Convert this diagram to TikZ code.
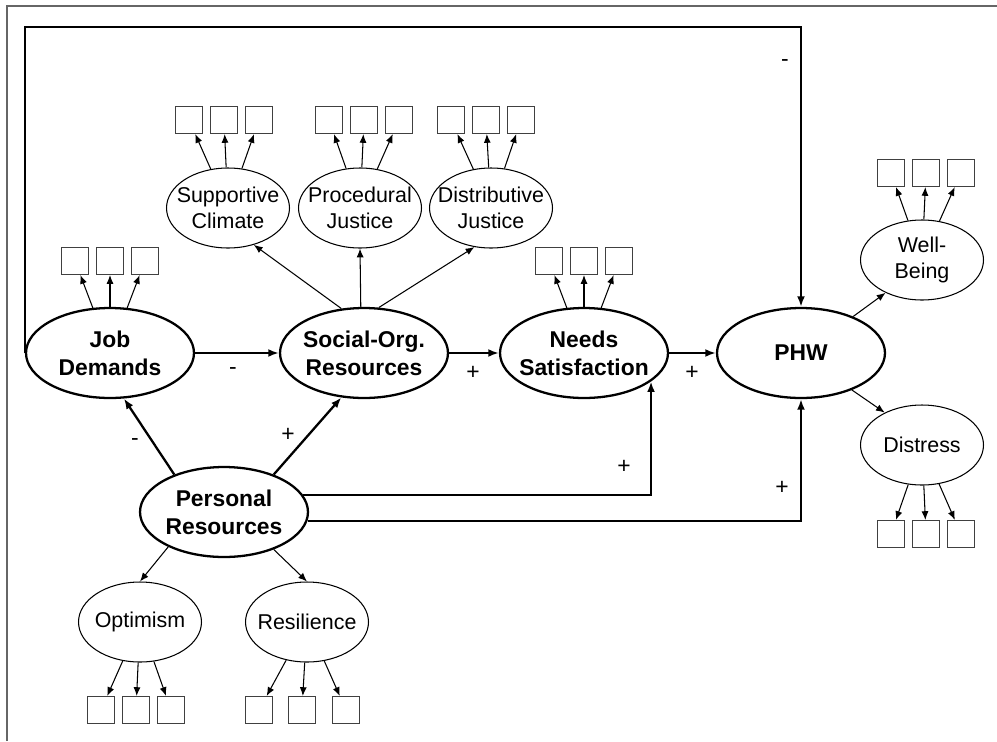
\documentclass[tikz,border=0pt]{standalone}
\usepackage{fontspec}
\setmainfont{Liberation Sans}
\usetikzlibrary{shapes.geometric,arrows.meta}
\tikzset{
  latent/.style={draw,shape=ellipse,line width=1.3pt,inner xsep=-8pt,inner ysep=0pt,
    minimum width=3.36cm,minimum height=1.8cm,align=center,
    font=\fontsize{13}{16}\selectfont\bfseries},
  factor/.style={draw,shape=ellipse,line width=0.6pt,inner xsep=-8pt,inner ysep=0pt,
    minimum width=2.46cm,minimum height=1.6cm,align=center,
    font=\fontsize{12.2}{15}\selectfont},
  item/.style={draw=black!75,line width=0.6pt,inner sep=0pt,minimum size=0.54cm},
  effect/.style={line width=1.3pt,-{Latex[length=6pt,width=4.5pt]}},
  loading/.style={line width=0.6pt,-{Latex[length=5pt,width=4pt]}},
  sign/.style={inner sep=0pt,font=\fontsize{13}{13}\selectfont}
}
\begin{document}
\begin{tikzpicture}[x=0.02cm,y=-0.02cm]
\useasboundingbox (0,0) rectangle (997,741);
\draw[black!60,line width=0.8pt] (7,741) -- (7,6) -- (997,6);
% structural part
\node [latent,name=jd] at (110,353) {Job\\Demands};
\node [latent,name=so] at (364,353) {Social-Org.\\Resources};
\node [latent,name=ns] at (584,353) {Needs\\Satisfaction};
\node [latent,name=phw] at (801,353) {PHW};
\node [latent,name=pr] at (224,512) {Personal\\Resources};
% first-order factors
\node [factor,name=sc] at (228,208) {Supportive\\Climate};
\node [factor,name=pj] at (360,208) {Procedural\\Justice};
\node [factor,name=dj] at (491,208) {Distributive\\Justice};
\node [factor,name=wb] at (922,260) {Well-\\Being};
\node [factor,name=di] at (922,445) {Distress};
\node [factor,name=op] at (140,622) {Optimism};
\node [factor,name=re] at (307,622) {Resilience};
% indicators
\node [item,name=jd1] at (75,261) {};
\node [item,name=jd2] at (110,261) {};
\node [item,name=jd3] at (145,261) {};
\node [item,name=sc1] at (189,120) {};
\node [item,name=sc2] at (224,120) {};
\node [item,name=sc3] at (259,120) {};
\node [item,name=pj1] at (329,120) {};
\node [item,name=pj2] at (364,120) {};
\node [item,name=pj3] at (399,120) {};
\node [item,name=dj1] at (451,120) {};
\node [item,name=dj2] at (486,120) {};
\node [item,name=dj3] at (521,120) {};
\node [item,name=ns1] at (549,261) {};
\node [item,name=ns2] at (584,261) {};
\node [item,name=ns3] at (619,261) {};
\node [item,name=wb1] at (891,173) {};
\node [item,name=wb2] at (926,173) {};
\node [item,name=wb3] at (961,173) {};
\node [item,name=di1] at (891,534) {};
\node [item,name=di2] at (926,534) {};
\node [item,name=di3] at (961,534) {};
\node [item,name=op1] at (101,710) {};
\node [item,name=op2] at (136,710) {};
\node [item,name=op3] at (171,710) {};
\node [item,name=re1] at (259,710) {};
\node [item,name=re2] at (302,710) {};
\node [item,name=re3] at (346,710) {};
\coordinate (looptop) at (400,27);
% structural paths
\draw[effect] (jd) -- (so);
\draw[effect] (so) -- (ns);
\draw[effect] (ns) -- (phw);
\draw[effect] (jd.west) |- (looptop) -| (phw.north);
\draw[effect] (pr.143) -- (jd.287);
\draw[effect] (pr.37) -- (so.243);
\draw[effect] (pr.12) -| (ns.337);
\draw[effect] (pr.354) -| (phw.south);
% signs
\node [sign,name=s1] at (785,63) {-};
\node [sign,name=s2] at (233,371) {-};
\node [sign,name=s3] at (473,373) {+};
\node [sign,name=s4] at (692,373) {+};
\node [sign,name=s5] at (135,442) {-};
\node [sign,name=s6] at (288,435) {+};
\node [sign,name=s7] at (624,467) {+};
\node [sign,name=s8] at (782,488) {+};
% second-order loadings
\draw[loading] (so.117) -- (sc.305);
\draw[loading] (so.94) -- (pj.south);
\draw[loading] (so.72) -- (dj.247);
\draw[loading] (phw.35) -- (wb.222);
\draw[loading] (phw.324) -- (di.139);
\draw[loading] (pr.212) -- (op.north);
\draw[loading] (pr.323) -- (re.north);
% indicator loadings
\draw[loading] (jd) -- (jd1);
\draw[loading] (jd) -- (jd2);
\draw[loading] (jd) -- (jd3);
\draw[loading] (sc) -- (sc1);
\draw[loading] (sc) -- (sc2);
\draw[loading] (sc) -- (sc3);
\draw[loading] (pj) -- (pj1);
\draw[loading] (pj) -- (pj2);
\draw[loading] (pj) -- (pj3);
\draw[loading] (dj) -- (dj1);
\draw[loading] (dj) -- (dj2);
\draw[loading] (dj) -- (dj3);
\draw[loading] (ns) -- (ns1);
\draw[loading] (ns) -- (ns2);
\draw[loading] (ns) -- (ns3);
\draw[loading] (wb) -- (wb1);
\draw[loading] (wb) -- (wb2);
\draw[loading] (wb) -- (wb3);
\draw[loading] (di) -- (di1);
\draw[loading] (di) -- (di2);
\draw[loading] (di) -- (di3);
\draw[loading] (op) -- (op1);
\draw[loading] (op) -- (op2);
\draw[loading] (op) -- (op3);
\draw[loading] (re) -- (re1);
\draw[loading] (re) -- (re2);
\draw[loading] (re) -- (re3);
\end{tikzpicture}
\end{document}
